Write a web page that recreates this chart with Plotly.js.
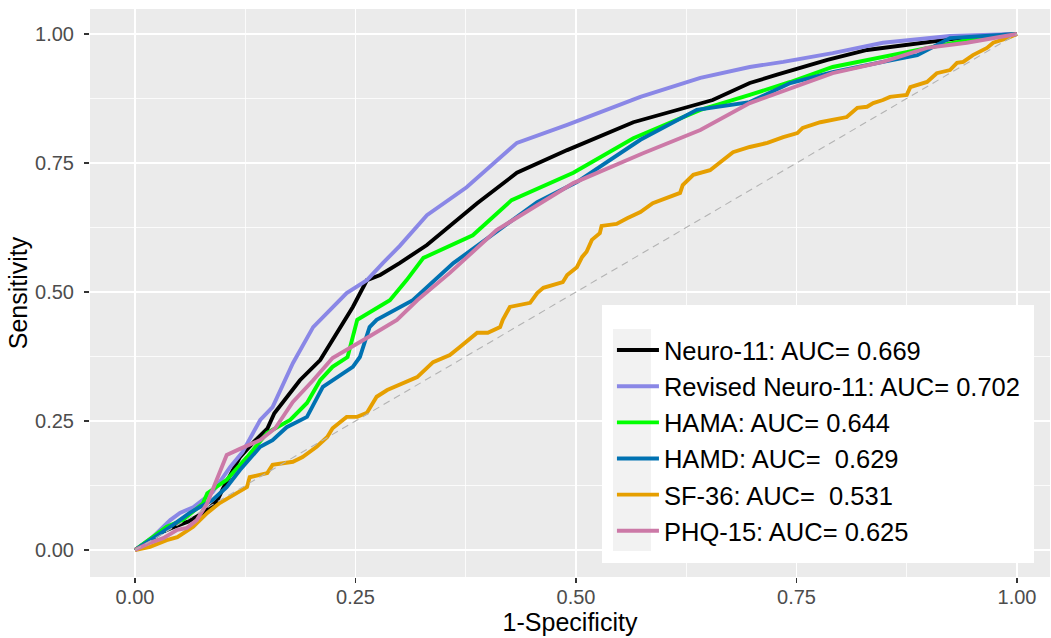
<!DOCTYPE html>
<html>
<head>
<meta charset="utf-8">
<script src="https://cdn.plot.ly/plotly-3.0.1.min.js"></script>
<style>html,body{margin:0;padding:0;background:#fff;}</style>
</head>
<body>
<div id="chart" style="width:1051px;height:638px;"></div>
<script>
// ---- Data ----
var seriesNames = [
  "Neuro-11: AUC= 0.669",
  "Revised Neuro-11: AUC= 0.702",
  "HAMA: AUC= 0.644",
  "HAMD: AUC=  0.629",
  "SF-36: AUC=  0.531",
  "PHQ-15: AUC= 0.625"
];
var seriesColors = ["#000000", "#8A87E6", "#00FF00", "#0072B2", "#E69F00", "#CC79A7"];

var neuroX = [0, 0.028, 0.045, 0.060, 0.080, 0.093, 0.100, 0.119, 0.135, 0.150, 0.158, 0.187, 0.210, 0.247, 0.263, 0.278, 0.300, 0.331, 0.388, 0.433, 0.490, 0.565, 0.655, 0.697, 0.728, 0.785, 0.830, 0.875, 0.913, 0.943, 1];
var neuroY = [0, 0.033, 0.045, 0.055, 0.075, 0.095, 0.120, 0.180, 0.210, 0.235, 0.265, 0.329, 0.368, 0.471, 0.523, 0.533, 0.556, 0.591, 0.672, 0.731, 0.775, 0.829, 0.872, 0.905, 0.921, 0.950, 0.969, 0.979, 0.988, 0.994, 1];

var revisedX = [0, 0.020, 0.040, 0.051, 0.066, 0.082, 0.088, 0.108, 0.122, 0.142, 0.156, 0.179, 0.202, 0.240, 0.263, 0.281, 0.300, 0.331, 0.376, 0.433, 0.490, 0.573, 0.641, 0.697, 0.735, 0.791, 0.848, 0.924, 1];
var revisedY = [0, 0.025, 0.058, 0.072, 0.083, 0.103, 0.112, 0.161, 0.190, 0.252, 0.277, 0.362, 0.432, 0.498, 0.523, 0.556, 0.589, 0.649, 0.703, 0.789, 0.824, 0.878, 0.915, 0.936, 0.946, 0.963, 0.983, 0.996, 1];

var hamaX = [0, 0.036, 0.054, 0.077, 0.082, 0.104, 0.127, 0.150, 0.176, 0.195, 0.210, 0.224, 0.241, 0.252, 0.289, 0.308, 0.327, 0.383, 0.427, 0.497, 0.565, 0.641, 0.697, 0.743, 0.791, 0.848, 0.904, 0.943, 1];
var hamaY = [0, 0.045, 0.058, 0.090, 0.110, 0.136, 0.180, 0.227, 0.252, 0.285, 0.329, 0.355, 0.374, 0.446, 0.484, 0.523, 0.566, 0.610, 0.678, 0.731, 0.798, 0.853, 0.882, 0.907, 0.936, 0.955, 0.975, 0.988, 1];

var hamdX = [0, 0.017, 0.040, 0.062, 0.074, 0.088, 0.104, 0.119, 0.142, 0.156, 0.172, 0.195, 0.213, 0.247, 0.255, 0.266, 0.274, 0.315, 0.361, 0.456, 0.501, 0.573, 0.637, 0.697, 0.743, 0.791, 0.848, 0.887, 0.924, 0.943, 1];
var hamdY = [0, 0.019, 0.045, 0.072, 0.083, 0.097, 0.122, 0.155, 0.200, 0.213, 0.238, 0.258, 0.316, 0.355, 0.374, 0.432, 0.446, 0.484, 0.556, 0.674, 0.713, 0.795, 0.853, 0.868, 0.905, 0.926, 0.946, 0.959, 0.992, 0.994, 1];

var sf36X = [0, 0.017, 0.036, 0.048, 0.066, 0.082, 0.096, 0.116, 0.127, 0.130, 0.150, 0.156, 0.179, 0.190, 0.206, 0.218, 0.224, 0.240, 0.252, 0.263, 0.274, 0.286, 0.300, 0.320, 0.338, 0.357, 0.368, 0.382, 0.388, 0.400, 0.414, 0.417, 0.425, 0.448, 0.456, 0.463, 0.485, 0.490, 0.501, 0.507, 0.512, 0.518, 0.527, 0.529, 0.546, 0.558, 0.573, 0.587, 0.603, 0.618, 0.621, 0.633, 0.652, 0.663, 0.678, 0.697, 0.717, 0.735, 0.751, 0.757, 0.777, 0.807, 0.819, 0.830, 0.837, 0.848, 0.856, 0.875, 0.879, 0.898, 0.909, 0.924, 0.932, 0.939, 0.950, 0.966, 0.973, 0.989, 1];
var sf36Y = [0, 0.006, 0.019, 0.025, 0.045, 0.072, 0.091, 0.110, 0.122, 0.141, 0.149, 0.165, 0.171, 0.180, 0.200, 0.219, 0.236, 0.258, 0.258, 0.266, 0.297, 0.310, 0.320, 0.335, 0.364, 0.378, 0.393, 0.413, 0.421, 0.421, 0.432, 0.446, 0.471, 0.479, 0.498, 0.508, 0.519, 0.533, 0.548, 0.568, 0.578, 0.601, 0.614, 0.628, 0.632, 0.643, 0.655, 0.672, 0.682, 0.692, 0.707, 0.727, 0.736, 0.750, 0.771, 0.781, 0.789, 0.800, 0.808, 0.818, 0.829, 0.839, 0.857, 0.859, 0.866, 0.872, 0.878, 0.882, 0.897, 0.907, 0.924, 0.930, 0.944, 0.946, 0.959, 0.973, 0.983, 0.992, 1];

var phqX = [0, 0.017, 0.032, 0.048, 0.059, 0.070, 0.082, 0.093, 0.104, 0.119, 0.142, 0.159, 0.179, 0.202, 0.224, 0.259, 0.297, 0.320, 0.357, 0.410, 0.497, 0.576, 0.641, 0.697, 0.743, 0.791, 0.848, 0.898, 0.943, 1];
var phqY = [0, 0.014, 0.023, 0.039, 0.043, 0.058, 0.091, 0.138, 0.184, 0.196, 0.213, 0.236, 0.287, 0.329, 0.372, 0.407, 0.446, 0.484, 0.537, 0.620, 0.711, 0.769, 0.814, 0.866, 0.895, 0.924, 0.946, 0.973, 0.983, 1];

var diagX = [0, 1];
var diagY = [0, 1];

var tickVals = [0, 0.25, 0.5, 0.75, 1];
var tickText = ["0.00", "0.25", "0.50", "0.75", "1.00"];

// ---- Build traces ----
var xs = [neuroX, revisedX, hamaX, hamdX, sf36X, phqX];
var ys = [neuroY, revisedY, hamaY, hamdY, sf36Y, phqY];
var traces = [];
for (var i = 0; i < seriesNames.length; i++) {
  traces.push({
    type: "scatter", mode: "lines",
    x: xs[i], y: ys[i], name: seriesNames[i],
    line: {color: seriesColors[i], width: 3.9},
    hoverinfo: "skip"
  });
}
traces.push({
  type: "scatter", mode: "lines", x: diagX, y: diagY, showlegend: false,
  line: {color: "#B3B3B3", width: 1.1, dash: "7px,5px"}, hoverinfo: "skip"
});

var font = "Liberation Sans, Arial, Helvetica, sans-serif";

var layout = {
  width: 1051, height: 638,
  margin: {l: 90, r: 1, t: 9, b: 61},
  paper_bgcolor: "#FFFFFF",
  plot_bgcolor: "#EBEBEB",
  font: {family: font, color: "#000000"},
  showlegend: true,
  xaxis: {
    range: [-0.051, 1.0374], autorange: false,
    tickvals: tickVals, ticktext: tickText,
    ticks: "outside", ticklen: 5, tickwidth: 1.1, tickcolor: "#333333",
    ticklabelstandoff: -3,
    tickfont: {family: font, size: 20, color: "#4D4D4D"},
    showgrid: true, gridcolor: "#FFFFFF", gridwidth: 1.7,
    minor: {dtick: 0.125, tick0: 0, showgrid: true, gridcolor: "#FFFFFF", gridwidth: 0.8, ticks: ""},
    zeroline: false, showline: false,
    title: {text: "1-Specificity", font: {family: font, size: 25, color: "#000000"}, standoff: 6},
    automargin: false, fixedrange: true
  },
  yaxis: {
    range: [-0.0523, 1.0484], autorange: false,
    tickvals: tickVals, ticktext: tickText,
    ticks: "outside", ticklen: 5, tickwidth: 1.1, tickcolor: "#333333",
    ticklabelstandoff: 6,
    tickfont: {family: font, size: 20, color: "#4D4D4D"},
    showgrid: true, gridcolor: "#FFFFFF", gridwidth: 1.7,
    minor: {dtick: 0.125, tick0: 0, showgrid: true, gridcolor: "#FFFFFF", gridwidth: 0.8, ticks: ""},
    zeroline: false, showline: false,
    title: {text: "Sensitivity", font: {family: font, size: 25, color: "#000000"}, standoff: 0},
    automargin: false, fixedrange: true
  },
  legend: {
    x: 0.5437, y: 0.4402, xanchor: "left", yanchor: "top",
    bgcolor: "rgba(0,0,0,0)", borderwidth: 0,
    font: {family: font, size: 25.5, color: "#000000"},
    itemwidth: 42, traceorder: "normal"
  },
  shapes: [
    {type: "rect", xref: "paper", yref: "paper", x0: 0.5333, x1: 0.9833, y0: 0.0247, y1: 0.4789,
     fillcolor: "#FFFFFF", line: {width: 0}, layer: "above"},
    {type: "rect", xref: "paper", yref: "paper", x0: 0.5448, x1: 0.5844, y0: 0.0458, y1: 0.4366,
     fillcolor: "#F2F2F2", line: {width: 0}, layer: "above"}
  ]
};

Plotly.newPlot("chart", traces, layout, {displayModeBar: false, staticPlot: true});
</script>
</body>
</html>
